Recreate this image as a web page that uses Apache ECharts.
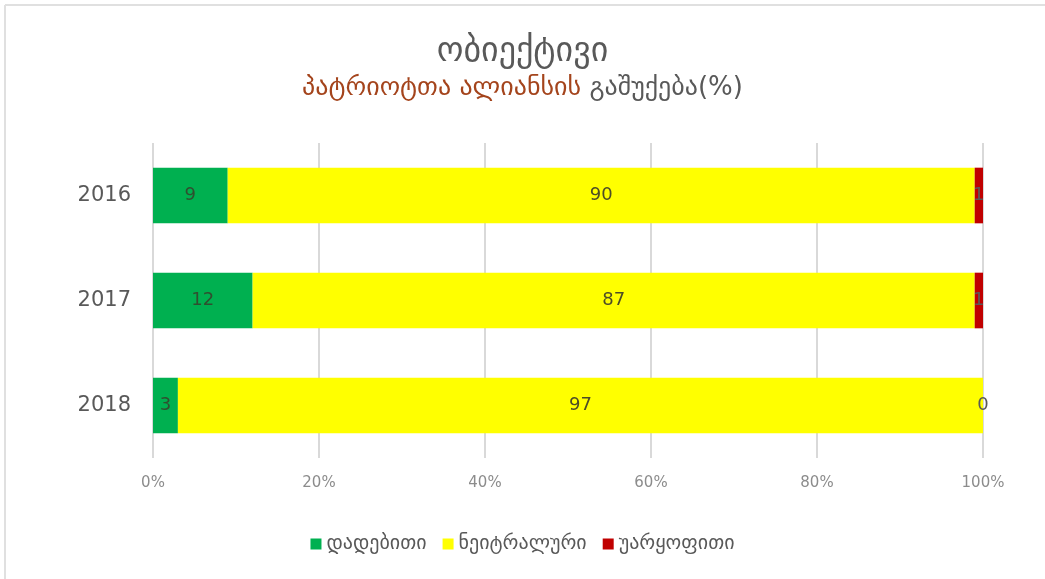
<!DOCTYPE html>
<html>
<head>
<meta charset="utf-8">
<script src="https://cdn.jsdelivr.net/npm/echarts@6/dist/echarts.min.js"></script>
<style>
    html, body {margin: 0; padding: 0; background: #fff;}
    #coverageChart {width: 1045px; height: 579px;}
</style>
</head>
<body>
<div id="coverageChart"></div>
<script>
let years = ['2016', '2017', '2018'];
let positiveData = [9, 12, 3];
let neutralData = [90, 87, 97];
let negativeData = [1, 1, 0.3];
let xTicks = ['0%', '20%', '40%', '60%', '80%', '100%'];

let coverageChart = echarts.init(document.getElementById('coverageChart'));

function barSeries(name, data, color, labelColor) {
    return {
        name: name,
        type: 'bar',
        stack: 'total',
        data: data,
        barCategoryGap: '47%',
        itemStyle: {color: color},
        label: {
            show: true,
            position: 'inside',
            color: labelColor,
            fontSize: 18,
            fontFamily: 'DejaVu Sans',
            formatter: function (p) {
                return Math.round(p.value);
            }
        }
    };
}

let coverageOption = {
    backgroundColor: '#fff',
    animation: false,
    title: {
        left: 'center',
        top: 30,
        text: 'ობიექტივი',
        subtext: '{a|პატრიოტთა ალიანსის }{b|გაშუქება(%)}',
        itemGap: 6,
        textStyle: {
            color: '#595959',
            fontSize: 34,
            fontWeight: 'normal',
            fontFamily: 'DejaVu Sans'
        },
        subtextStyle: {
            rich: {
                a: {color: '#a4441c', fontSize: 26, fontFamily: 'DejaVu Sans'},
                b: {color: '#595959', fontSize: 26, fontFamily: 'DejaVu Sans'}
            }
        }
    },
    legend: {
        bottom: 20,
        left: 'center',
        itemWidth: 11,
        itemHeight: 11,
        itemGap: 16,
        icon: 'rect',
        textStyle: {color: '#595959', fontSize: 20, fontFamily: 'DejaVu Sans'},
        data: ['დადებითი', 'ნეიტრალური', 'უარყოფითი']
    },
    grid: {
        left: 153,
        right: 62,
        top: 143,
        bottom: 121
    },
    xAxis: {
        type: 'value',
        min: 0,
        max: 100,
        interval: 20,
        axisLine: {show: false},
        axisTick: {show: false},
        splitLine: {lineStyle: {color: '#d9d9d9', width: 2}},
        axisLabel: {
            color: '#8c8c8c',
            fontSize: 15,
            margin: 18,
            fontFamily: 'DejaVu Sans',
            formatter: function (v) {
                return xTicks[v / 20];
            }
        }
    },
    yAxis: {
        type: 'category',
        inverse: true,
        data: years,
        axisLine: {show: false},
        axisTick: {show: false},
        axisLabel: {color: '#595959', fontSize: 21, margin: 22, fontFamily: 'DejaVu Sans'}
    },
    graphic: [
        {type: 'line', shape: {x1: 5, y1: 5, x2: 1045, y2: 5}, style: {stroke: '#e0e0e0', lineWidth: 2}},
        {type: 'line', shape: {x1: 5, y1: 5, x2: 5, y2: 579}, style: {stroke: '#e0e0e0', lineWidth: 2}}
    ],
    series: [
        barSeries('დადებითი', positiveData, '#00b050', '#2f4f2f'),
        barSeries('ნეიტრალური', neutralData, '#ffff00', '#4d4d26'),
        barSeries('უარყოფითი', negativeData, '#c00000', '#595959')
    ]
};
coverageChart.setOption(coverageOption);
</script>
</body>
</html>
